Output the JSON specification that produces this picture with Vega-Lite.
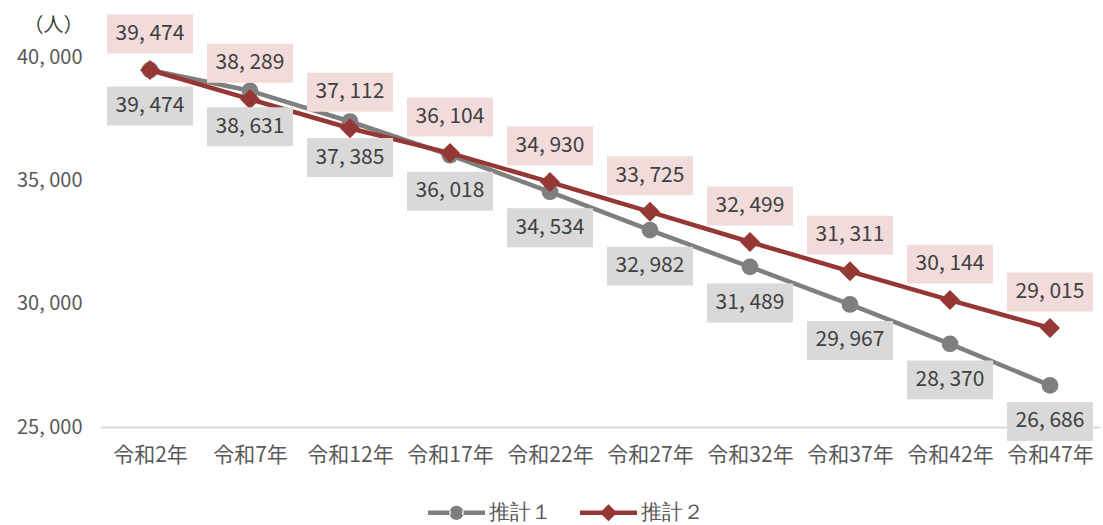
{
  "$schema": "https://vega.github.io/schema/vega-lite/v6.json",
  "autosize": "none",
  "width": 1000,
  "height": 370,
  "padding": {"left": 100, "top": 57, "right": 3, "bottom": 98},
  "background": "white",
  "config": {
    "view": {"stroke": null},
    "legend": {"symbolOpacity": 1}
  },
  "data": {
    "values": [
      {"year": "令和2年", "series": "推計１", "value": 39474, "label": "39, 474"},
      {"year": "令和7年", "series": "推計１", "value": 38631, "label": "38, 631"},
      {"year": "令和12年", "series": "推計１", "value": 37385, "label": "37, 385"},
      {"year": "令和17年", "series": "推計１", "value": 36018, "label": "36, 018"},
      {"year": "令和22年", "series": "推計１", "value": 34534, "label": "34, 534"},
      {"year": "令和27年", "series": "推計１", "value": 32982, "label": "32, 982"},
      {"year": "令和32年", "series": "推計１", "value": 31489, "label": "31, 489"},
      {"year": "令和37年", "series": "推計１", "value": 29967, "label": "29, 967"},
      {"year": "令和42年", "series": "推計１", "value": 28370, "label": "28, 370"},
      {"year": "令和47年", "series": "推計１", "value": 26686, "label": "26, 686"},
      {"year": "令和2年", "series": "推計２", "value": 39474, "label": "39, 474"},
      {"year": "令和7年", "series": "推計２", "value": 38289, "label": "38, 289"},
      {"year": "令和12年", "series": "推計２", "value": 37112, "label": "37, 112"},
      {"year": "令和17年", "series": "推計２", "value": 36104, "label": "36, 104"},
      {"year": "令和22年", "series": "推計２", "value": 34930, "label": "34, 930"},
      {"year": "令和27年", "series": "推計２", "value": 33725, "label": "33, 725"},
      {"year": "令和32年", "series": "推計２", "value": 32499, "label": "32, 499"},
      {"year": "令和37年", "series": "推計２", "value": 31311, "label": "31, 311"},
      {"year": "令和42年", "series": "推計２", "value": 30144, "label": "30, 144"},
      {"year": "令和47年", "series": "推計２", "value": 29015, "label": "29, 015"}
    ]
  },
  "encoding": {
    "x": {
      "field": "year", "type": "ordinal", "sort": null,
      "scale": {"type": "point", "padding": 0.5},
      "axis": {
        "title": null, "labelAngle": 0, "ticks": false, "grid": false,
        "domainColor": "#d9d9d9", "domainWidth": 2,
        "labelFont": "Noto Sans CJK JP", "labelFontSize": 21, "labelColor": "#595959",
        "labelPadding": 17
      }
    },
    "y": {
      "field": "value", "type": "quantitative",
      "scale": {"domain": [25000, 40000], "nice": false, "zero": false},
      "axis": {
        "values": [25000, 30000, 35000, 40000],
        "labelExpr": "replace(format(datum.value, ','), ',', ', ')",
        "domain": false, "ticks": false, "grid": false,
        "labelFont": "Noto Sans CJK JP", "labelFontSize": 20, "labelColor": "#595959",
        "labelPadding": 18,
        "title": "（人）", "titleAngle": 0, "titleX": -47, "titleY": -32,
        "titleAlign": "center", "titleBaseline": "middle",
        "titleFont": "Noto Sans CJK JP", "titleFontSize": 20, "titleFontWeight": "normal", "titleColor": "#404040"
      }
    }
  },
  "layer": [
    {
      "transform": [{"filter": "datum.series === '推計１'"}],
      "mark": {"type": "line", "strokeWidth": 4.5, "color": "#7f7f7f"},
      "encoding": {}
    },
    {
      "transform": [{"filter": "datum.series === '推計１'"}],
      "mark": {"type": "point", "shape": "circle", "filled": true, "opacity": 1, "size": 280, "color": "#7f7f7f"},
      "encoding": {}
    },
    {
      "transform": [{"filter": "datum.series === '推計２'"}],
      "mark": {"type": "line", "strokeWidth": 4.5, "color": "#953735"},
      "encoding": {}
    },
    {
      "transform": [{"filter": "datum.series === '推計２'"}],
      "mark": {"type": "point", "shape": "diamond", "filled": true, "opacity": 1, "size": 400, "color": "#953735"},
      "encoding": {}
    },
    {
      "transform": [{"filter": "datum.series === '推計１'"}],
      "mark": {"type": "point", "shape": "M-1,-0.453H1V0.453H-1Z", "filled": true, "opacity": 1, "size": 7396, "color": "#d9d9d9", "yOffset": 36, "strokeWidth": 0},
      "encoding": {}
    },
    {
      "transform": [{"filter": "datum.series === '推計１'"}],
      "mark": {"type": "text", "dy": 36, "font": "Noto Sans CJK JP", "fontSize": 21, "color": "#404040", "baseline": "middle"},
      "encoding": {"text": {"field": "label"}}
    },
    {
      "transform": [{"filter": "datum.series === '推計２'"}],
      "mark": {"type": "point", "shape": "M-1,-0.453H1V0.453H-1Z", "filled": true, "opacity": 1, "size": 7396, "color": "#f2dcdb", "yOffset": -36, "strokeWidth": 0},
      "encoding": {}
    },
    {
      "transform": [{"filter": "datum.series === '推計２'"}],
      "mark": {"type": "text", "dy": -36, "font": "Noto Sans CJK JP", "fontSize": 21, "color": "#404040", "baseline": "middle"},
      "encoding": {"text": {"field": "label"}}
    },
    {
      "mark": {"type": "point", "filled": true, "opacity": 0},
      "encoding": {
        "color": {
          "field": "series", "type": "nominal",
          "scale": {"domain": ["推計１", "推計２"], "range": ["#7f7f7f", "#953735"]},
          "legend": {
            "title": null, "orient": "none", "direction": "horizontal",
            "legendX": 328, "legendY": 427,
            "symbolSize": 3249, "symbolStrokeWidth": 0, "symbolOpacity": 1,
            "labelFont": "Noto Sans", "labelFontSize": 21, "labelColor": "#595959",
            "labelOffset": 4, "columnPadding": 28
          }
        },
        "shape": {
          "field": "series", "type": "nominal",
          "scale": {"domain": ["推計１", "推計２"], "range": [
            "M-1,-0.08H-0.2V0.08H-1Z M0.2,-0.08H1V0.08H0.2Z M-0.25,0A0.25,0.25 0 1,0 0.25,0A0.25,0.25 0 1,0 -0.25,0Z",
            "M-1,-0.08H-0.2V0.08H-1Z M0.2,-0.08H1V0.08H0.2Z M0,-0.3L0.3,0L0,0.3L-0.3,0Z"
          ]},
          "legend": {
            "title": null, "orient": "none", "direction": "horizontal",
            "legendX": 328, "legendY": 427,
            "symbolSize": 3249, "symbolStrokeWidth": 0, "symbolOpacity": 1,
            "labelFont": "Noto Sans", "labelFontSize": 21, "labelColor": "#595959",
            "labelOffset": 4, "columnPadding": 28
          }
        }
      }
    }
  ]
}
